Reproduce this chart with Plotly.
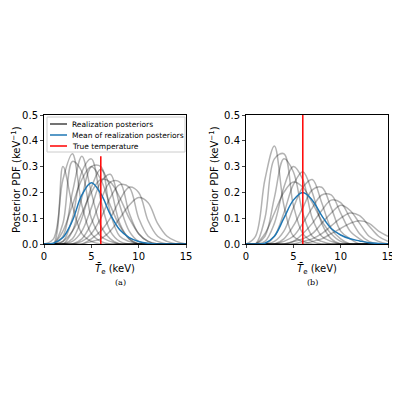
import plotly.graph_objs as go

# temperature grid (keV)
temps = list(range(16))

# realization posteriors, panel (a)
post_a = [
    [0, 0, 0.30, 0.15, 0.04, 0.01, 0, 0, 0, 0, 0, 0, 0, 0, 0, 0],
    [0, 0.02, 0.25, 0.35, 0.15, 0.04, 0.01, 0, 0, 0, 0, 0, 0, 0, 0, 0],
    [0, 0, 0.08, 0.32, 0.28, 0.10, 0.03, 0.01, 0, 0, 0, 0, 0, 0, 0, 0],
    [0, 0, 0.03, 0.20, 0.34, 0.20, 0.07, 0.02, 0, 0, 0, 0, 0, 0, 0, 0],
    [0, 0, 0.01, 0.10, 0.28, 0.33, 0.17, 0.05, 0.01, 0, 0, 0, 0, 0, 0, 0],
    [0, 0, 0, 0.05, 0.18, 0.30, 0.30, 0.12, 0.03, 0.01, 0, 0, 0, 0, 0, 0],
    [0, 0, 0, 0.02, 0.10, 0.22, 0.29, 0.22, 0.08, 0.02, 0, 0, 0, 0, 0, 0],
    [0, 0, 0, 0.01, 0.05, 0.14, 0.24, 0.27, 0.15, 0.05, 0.01, 0, 0, 0, 0, 0],
    [0, 0, 0, 0, 0.02, 0.08, 0.17, 0.24, 0.24, 0.12, 0.04, 0.01, 0, 0, 0, 0],
    [0, 0, 0, 0, 0.01, 0.04, 0.10, 0.18, 0.23, 0.22, 0.10, 0.03, 0.01, 0, 0, 0],
    [0, 0, 0, 0, 0, 0.02, 0.05, 0.10, 0.17, 0.22, 0.20, 0.09, 0.03, 0.01, 0, 0],
    [0, 0, 0, 0, 0, 0.01, 0.02, 0.05, 0.10, 0.15, 0.18, 0.16, 0.08, 0.03, 0.01, 0],
    [0, 0, 0.05, 0.15, 0.25, 0.30, 0.25, 0.15, 0.07, 0.02, 0, 0, 0, 0, 0, 0],
    [0, 0, 0.01, 0.05, 0.12, 0.20, 0.25, 0.24, 0.18, 0.10, 0.04, 0.01, 0, 0, 0, 0],
]
mean_a = [0, 0.003, 0.025, 0.09, 0.19, 0.237, 0.195, 0.115, 0.055, 0.025, 0.01, 0.003, 0, 0, 0, 0]
true_a = 6.0
true_a_top = 0.34

# realization posteriors, panel (b)
post_b = [
    [0, 0.03, 0.25, 0.38, 0.15, 0.03, 0.01, 0, 0, 0, 0, 0, 0, 0, 0, 0],
    [0, 0, 0.10, 0.33, 0.35, 0.15, 0.04, 0.01, 0, 0, 0, 0, 0, 0, 0, 0],
    [0, 0, 0.03, 0.18, 0.33, 0.28, 0.12, 0.03, 0.01, 0, 0, 0, 0, 0, 0, 0],
    [0, 0, 0.01, 0.08, 0.22, 0.30, 0.25, 0.10, 0.03, 0.01, 0, 0, 0, 0, 0, 0],
    [0, 0, 0, 0.03, 0.12, 0.23, 0.28, 0.20, 0.08, 0.02, 0, 0, 0, 0, 0, 0],
    [0, 0, 0, 0.01, 0.05, 0.14, 0.22, 0.25, 0.16, 0.06, 0.02, 0, 0, 0, 0, 0],
    [0, 0, 0, 0, 0.02, 0.07, 0.14, 0.21, 0.22, 0.14, 0.05, 0.02, 0, 0, 0, 0],
    [0, 0, 0, 0, 0.01, 0.03, 0.08, 0.14, 0.19, 0.19, 0.12, 0.05, 0.02, 0, 0, 0],
    [0, 0, 0, 0, 0, 0.01, 0.04, 0.08, 0.13, 0.17, 0.16, 0.10, 0.04, 0.01, 0, 0],
    [0, 0, 0, 0, 0, 0.01, 0.02, 0.04, 0.08, 0.12, 0.15, 0.13, 0.08, 0.03, 0.01, 0],
    [0, 0, 0, 0, 0, 0, 0.01, 0.02, 0.04, 0.07, 0.10, 0.12, 0.11, 0.07, 0.03, 0.01],
    [0, 0, 0, 0, 0, 0, 0, 0.01, 0.02, 0.04, 0.06, 0.08, 0.09, 0.08, 0.05, 0.03],
    [0, 0, 0.04, 0.12, 0.20, 0.24, 0.22, 0.16, 0.09, 0.04, 0.01, 0, 0, 0, 0, 0],
]
mean_b = [0, 0, 0.003, 0.03, 0.10, 0.17, 0.20, 0.17, 0.11, 0.06, 0.035, 0.02, 0.012, 0.005, 0.002, 0]
true_b = 6.0
true_b_top = 0.5

legend_names = ['Realization posteriors', 'Mean of realization posteriors', 'True temperature']
legend_colors = ['#444444', '#1f77b4', 'red']

font = dict(family='DejaVu Sans', size=10, color='black')
fig = go.Figure()

for panel, posts, mean, tx, ttop in [('', post_a, mean_a, true_a, true_a_top),
                                     ('2', post_b, mean_b, true_b, true_b_top)]:
    xa, ya = 'x' + panel, 'y' + panel
    for p in posts:
        fig.add_trace(go.Scatter(x=temps, y=p, mode='lines', line=dict(color='rgba(0,0,0,0.3)', width=1.5, shape='spline'),
                                 showlegend=False, xaxis=xa, yaxis=ya, hoverinfo='skip'))
    fig.add_trace(go.Scatter(x=temps, y=mean, mode='lines', line=dict(color='#1f77b4', width=1.5, shape='spline'),
                             showlegend=False, xaxis=xa, yaxis=ya))
    fig.add_trace(go.Scatter(x=[tx, tx], y=[0, ttop], mode='lines', line=dict(color='red', width=1.5),
                             showlegend=False, xaxis=xa, yaxis=ya))


# page pixels to paper coords (the page sits 8px in from the corner)
def px(x):
    return (x - 8) / 400


def py(y):
    return 1 - (y - 8) / 400


# hand-built compact legend
shapes = [dict(type='rect', xref='paper', yref='paper', x0=px(47), x1=px(185), y0=py(152), y1=py(117),
               line=dict(color='#cccccc', width=1), fillcolor='rgba(255,255,255,0.8)', layer='above')]
annotations = []
for i, (name, col) in enumerate(zip(legend_names, legend_colors)):
    yy = py(124 + 11 * i)
    shapes.append(dict(type='line', xref='paper', yref='paper', x0=px(50), x1=px(67), y0=yy, y1=yy,
                       line=dict(color=col, width=1.5), layer='above'))
    annotations.append(dict(text=name, x=px(70), y=yy, xref='paper', yref='paper', showarrow=False,
                            xanchor='left', yanchor='middle', font=dict(family='DejaVu Sans', size=7.5)))

annotations += [
    dict(text='(a)', x=px(113), y=py(289), xref='paper', yref='paper', showarrow=False,
         font=dict(family='DejaVu Serif', size=8)),
    dict(text='(b)', x=px(320), y=py(289), xref='paper', yref='paper', showarrow=False,
         font=dict(family='DejaVu Serif', size=8)),
]
# y titles as rotated annotations
for xpos in [0, px(212) - 0.015]:
    annotations.append(dict(text='Posterior PDF (keV<sup>−1</sup>)', x=xpos, y=py(180), xref='paper', yref='paper',
                            showarrow=False, textangle=-90, xanchor='left', yanchor='middle', font=font))

axis = dict(range=[0, 15], tickvals=[0, 5, 10, 15], showline=True, mirror=True, linecolor='black', linewidth=1,
            ticks='outside', ticklen=3, showgrid=False, zeroline=False, tickfont=font, automargin=False)
yaxis = dict(range=[0, 0.5], tickvals=[0, 0.1, 0.2, 0.3, 0.4, 0.5], tickformat='.1f', showline=True, mirror=True,
             linecolor='black', linewidth=1, ticks='outside', ticklen=3, showgrid=False, zeroline=False, tickfont=font,
             automargin=False)
xtitle = dict(text='<i>T̄</i><sub>e</sub> (keV)', font=font, standoff=2)

fig.update_layout(
    width=400, height=400, margin=dict(l=0, r=0, t=0, b=0),
    plot_bgcolor='white', paper_bgcolor='white', font=font, showlegend=False,
    xaxis=dict(axis, domain=[px(44), px(186)], anchor='y', title=xtitle),
    yaxis=dict(yaxis, domain=[py(244), py(115)], anchor='x'),
    xaxis2=dict(axis, domain=[px(246), px(388)], anchor='y2', title=xtitle),
    yaxis2=dict(yaxis, domain=[py(244), py(115)], anchor='x2'),
    shapes=shapes,
    annotations=annotations,
)

fig.write_html("out.html")
